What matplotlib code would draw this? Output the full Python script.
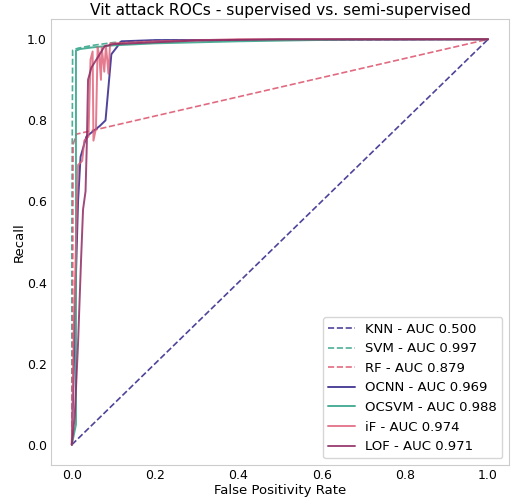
import matplotlib
matplotlib.use("Agg")
import matplotlib.pyplot as plt
import seaborn as sns

sns.set_style("white")
plt.rcParams["font.family"] = ["DejaVu Sans"]
plt.rcParams["text.color"] = "black"
plt.rcParams["axes.labelcolor"] = "black"
plt.rcParams["xtick.color"] = "black"
plt.rcParams["ytick.color"] = "black"

# curvas ROC (fpr, tpr)
knn_fpr = [0.0, 1.0]
knn_tpr = [0.0, 1.0]

svm_fpr = [0.0, 0.0, 0.002, 0.015, 0.05, 0.1, 0.2, 1.0]
svm_tpr = [0.0, 0.5, 0.973, 0.978, 0.985, 0.992, 0.997, 1.0]

rf_fpr = [0.0, 0.002, 0.003, 0.011, 1.0]
rf_tpr = [0.0, 0.3, 0.74, 0.766, 1.0]

ocnn_fpr = [0.0, 0.004, 0.007, 0.015, 0.021, 0.035, 0.067, 0.081, 0.095, 0.119, 0.2, 1.0]
ocnn_tpr = [0.0, 0.15, 0.31, 0.6, 0.71, 0.76, 0.786, 0.8, 0.963, 0.995, 0.998, 1.0]

ocsvm_fpr = [0.0, 0.01, 0.01, 0.02, 0.05, 0.1, 0.2, 0.4, 0.7, 1.0]
ocsvm_tpr = [0.0, 0.05, 0.972, 0.976, 0.98, 0.985, 0.99, 0.995, 1.0, 1.0]

if_fpr = [0.0, 0.005, 0.015, 0.025, 0.03, 0.04, 0.045, 0.05, 0.052, 0.058,
          0.062, 0.066, 0.07, 0.072, 0.078, 0.082, 0.088, 0.092, 0.1, 0.2, 0.4, 1.0]
if_tpr = [0.0, 0.3, 0.69, 0.70, 0.75, 0.76, 0.95, 0.97, 0.75, 0.78,
          0.98, 0.96, 0.90, 0.98, 0.92, 0.985, 0.915, 0.99, 0.99, 0.995, 1.0, 1.0]

lof_fpr = [0.0, 0.007, 0.015, 0.022, 0.027, 0.033, 0.036, 0.039, 0.047, 0.079, 0.1, 0.3, 0.5, 1.0]
lof_tpr = [0.0, 0.07, 0.25, 0.45, 0.58, 0.625, 0.74, 0.9, 0.93, 0.983, 0.988, 0.997, 1.0, 1.0]

indigo = "#3b2f8f"
teal = "#3aa68c"
pink = "#de5a73"
plum = "#8e2a62"

fig, ax = plt.subplots(figsize=(5.13, 5.0), dpi=100)

ax.plot(knn_fpr, knn_tpr, "--", color=indigo, lw=1.2, alpha=0.9, label="KNN - AUC 0.500")
ax.plot(svm_fpr, svm_tpr, "--", color=teal, lw=1.2, alpha=0.9, label="SVM - AUC 0.997")
ax.plot(rf_fpr, rf_tpr, "--", color=pink, lw=1.2, alpha=0.9, label="RF - AUC 0.879")
ax.plot(ocnn_fpr, ocnn_tpr, color=indigo, lw=1.4, alpha=0.9, label="OCNN - AUC 0.969")
ax.plot(ocsvm_fpr, ocsvm_tpr, color=teal, lw=1.4, alpha=0.9, label="OCSVM - AUC 0.988")
ax.plot(if_fpr, if_tpr, color=pink, lw=1.4, alpha=0.8, label="iF - AUC 0.974")
ax.plot(lof_fpr, lof_tpr, color=plum, lw=1.4, alpha=0.85, label="LOF - AUC 0.971")

ax.set_xlim(-0.05, 1.05)
ax.set_ylim(-0.05, 1.05)
ax.set_title("Vit attack ROCs - supervised vs. semi-supervised", fontsize=11.2, pad=3)
ax.set_xlabel("False Positivity Rate", fontsize=9.5, labelpad=1)
ax.set_ylabel("Recall", fontsize=9.5, labelpad=1)
ax.tick_params(labelsize=9, length=0, pad=3)
for s in ax.spines.values():
    s.set_color("#cccccc")
ax.legend(loc="lower right", fontsize=9.5)

plt.subplots_adjust(left=0.0994, right=0.992, top=0.962, bottom=0.07)
plt.savefig("out.png")
plt.close()
